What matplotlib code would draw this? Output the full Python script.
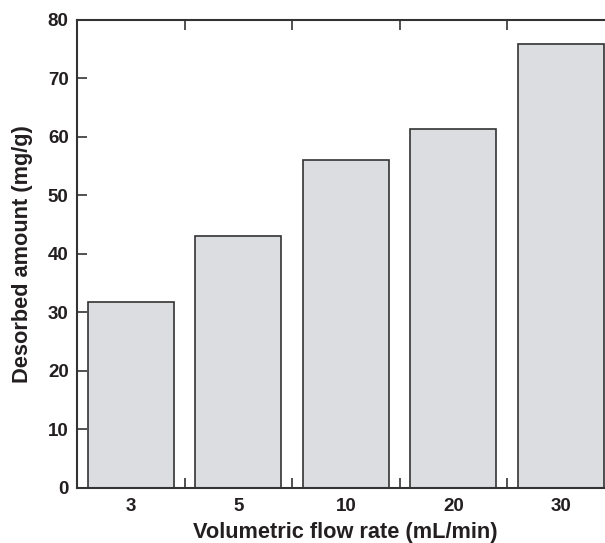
import matplotlib.pyplot as plt
import numpy as np

flow_rates = ["3", "5", "10", "20", "30"]
desorbed = [31.7, 43.0, 56.0, 61.3, 75.8]

plt.rcParams["font.family"] = ["Liberation Sans", "DejaVu Sans"]
plt.rcParams["font.weight"] = "bold"

fig = plt.figure(figsize=(6.05, 5.43), dpi=100)
# the right spine sits just past the figure edge in the reference
ax = fig.add_axes([0.1273, 0.1013, 0.8884, 0.8627])

x = np.arange(len(flow_rates))
ax.bar(x, desorbed, width=0.8, color="#dcdde0", edgecolor="#333333",
       linewidth=1.2, zorder=2)

ax.set_xlim(-0.5, len(flow_rates) - 0.5)
ax.set_ylim(0, 80)
ax.set_yticks(np.arange(0, 81, 10))
ax.set_xticks(x)
ax.set_xticklabels(flow_rates)
ax.set_xticks(np.arange(0.5, len(flow_rates) - 0.5, 1.0), minor=True)

ax.tick_params(axis="x", which="major", length=0, pad=7, labelsize=13.5)
ax.tick_params(axis="x", which="minor", direction="in", length=7,
               width=1.2, color="#333333", top=True)
ax.tick_params(axis="y", direction="in", length=7, width=1.2,
               color="#333333", labelsize=13.5, pad=6)

for side in ax.spines.values():
    side.set_linewidth(1.5)
    side.set_color("#333333")

for lbl in ax.get_xticklabels() + ax.get_yticklabels():
    lbl.set_fontweight("bold")
    lbl.set_color("#231f20")

ax.set_xlabel("Volumetric flow rate (mL/min)", fontsize=15.7, fontweight="bold",
              color="#231f20", labelpad=5)
ax.set_ylabel("Desorbed amount (mg/g)", fontsize=15.7, fontweight="bold",
              color="#231f20", labelpad=11)

fig.savefig("out.png", dpi=100)
